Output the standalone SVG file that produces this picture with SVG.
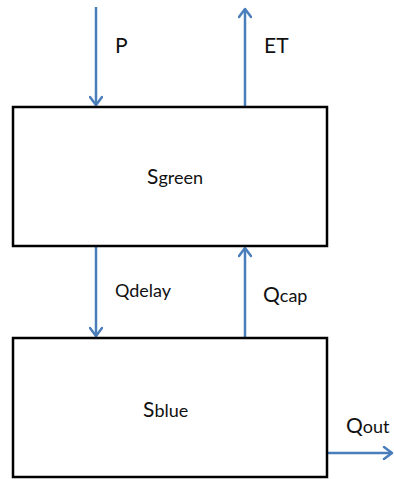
<svg xmlns="http://www.w3.org/2000/svg" width="394" height="479" viewBox="0 0 394 479">
  <defs>
    <marker id="open-arrow" viewBox="0 0 14 14" refX="11" refY="7" markerWidth="14" markerHeight="14" markerUnits="userSpaceOnUse" orient="auto">
      <path d="M3,1 L11,7 L3,13" fill="none" stroke="#4a7ebb" stroke-width="2.5" stroke-linecap="round" stroke-linejoin="round"/>
    </marker>
  </defs>
  <style>
    .store { fill: #ffffff; stroke: #000000; stroke-width: 2.5; }
    .flow { fill: none; stroke: #4a7ebb; stroke-width: 2.5; marker-end: url(#open-arrow); }
    .lbl { font-family: Lato, "Liberation Sans", sans-serif; fill: #111111; }
    .big { font-size: 21px; }
    .sub { font-size: 18px; }
  </style>
  <rect width="394" height="479" fill="#ffffff"/>

  <g id="connectors">
    <line class="flow" x1="96" y1="7" x2="96" y2="105"/>
    <line class="flow" x1="245" y1="107" x2="245" y2="9"/>
    <line class="flow" x1="96" y1="246" x2="96" y2="336"/>
    <line class="flow" x1="245" y1="338" x2="245" y2="248"/>
    <line class="flow" x1="327" y1="453" x2="392" y2="453"/>
  </g>

  <g id="s-green">
    <rect class="store" x="13" y="107" width="314" height="139"/>
    <text class="lbl" x="147" y="184"><tspan class="big">S</tspan><tspan class="sub">green</tspan></text>
  </g>

  <g id="s-blue">
    <rect class="store" x="13" y="338" width="314" height="139"/>
    <text class="lbl" x="143" y="417"><tspan class="big">S</tspan><tspan class="sub">blue</tspan></text>
  </g>

  <g id="labels">
    <text class="lbl big" x="115" y="53">P</text>
    <text class="lbl big" x="264" y="53">ET</text>
    <text class="lbl" x="115" y="297" font-size="18">Qdelay</text>
    <text class="lbl" x="263" y="302"><tspan class="big">Q</tspan><tspan class="sub">cap</tspan></text>
    <text class="lbl" x="346" y="433"><tspan class="big">Q</tspan><tspan class="sub">out</tspan></text>
  </g>
</svg>
